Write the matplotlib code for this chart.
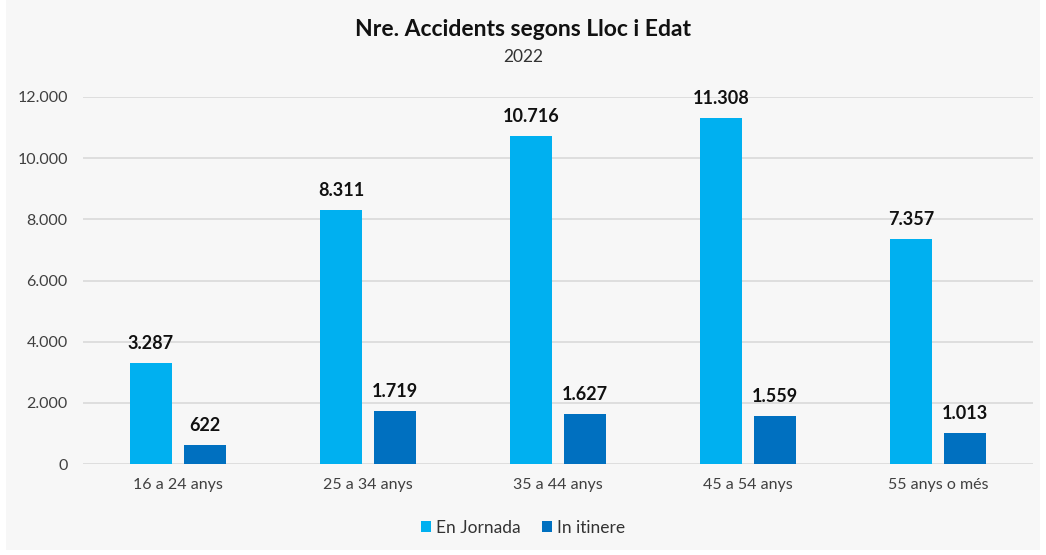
import numpy as np
import matplotlib.pyplot as plt
from matplotlib.patches import Rectangle
from matplotlib.ticker import FuncFormatter

plt.rcParams['font.family'] = ['Lato', 'DejaVu Sans']

# data
age_groups = ['16 a 24 anys', '25 a 34 anys', '35 a 44 anys', '45 a 54 anys', '55 anys o més']
en_jornada = [3287, 8311, 10716, 11308, 7357]
in_itinere = [622, 1719, 1627, 1559, 1013]
series_names = ['En Jornada', 'In itinere']
colors = ['#00b0f0', '#0070c0']

def dotted_thousands(v, pos=None):
    return f'{int(round(v)):,}'.replace(',', '.')

fig = plt.figure(figsize=(10.46, 5.55), dpi=100)
fig.patch.set_facecolor('white')
fig.patches.append(Rectangle((6 / 1046, 5 / 555), 1034 / 1046, 550 / 555,
                             transform=fig.transFigure, facecolor='#f7f7f7',
                             edgecolor='none', zorder=-10))

ax = fig.add_axes([83 / 1046, 91 / 555, 950 / 1046, 367 / 555])
ax.set_facecolor('none')

x = np.arange(len(age_groups))
w = 0.22
gap = 0.065
off = (w + gap) / 2
b1 = ax.bar(x - off, en_jornada, w, color=colors[0], label=series_names[0], zorder=3)
b2 = ax.bar(x + off, in_itinere, w, color=colors[1], label=series_names[1], zorder=3)

for bars in (b1, b2):
    for rect in bars:
        ax.annotate(dotted_thousands(rect.get_height()),
                    (rect.get_x() + rect.get_width() / 2, rect.get_height()),
                    xytext=(0, 8), textcoords='offset points',
                    ha='center', va='bottom', fontsize=13, fontweight='bold',
                    color='#111111')

ax.set_xlim(-0.5, len(age_groups) - 0.5)
ax.set_ylim(0, 12000)
ax.set_yticks(np.arange(0, 12001, 2000))
ax.yaxis.set_major_formatter(FuncFormatter(dotted_thousands))
ax.set_xticks(x)
ax.set_xticklabels(age_groups)
ax.tick_params(axis='both', length=0, labelsize=11.5, colors='#404040')
ax.tick_params(axis='x', pad=10)
ax.tick_params(axis='y', pad=11)
ax.grid(axis='y', color='#d9d9d9', linewidth=1.2, zorder=0)
for s in ax.spines.values():
    s.set_visible(False)

fig.text(0.5, 1 - 30 / 555, 'Nre. Accidents segons Lloc i Edat', ha='center',
         va='center', fontsize=16.5, fontweight='bold', color='#111111')
fig.text(0.5, 1 - 57 / 555, '2022', ha='center', va='center', fontsize=12.5,
         color='#333333')

fig.legend(loc='center', bbox_to_anchor=(0.5, 1 - 528 / 555), ncol=2, frameon=False,
           fontsize=12.5, handlelength=0.6, handleheight=0.6, handletextpad=0.3,
           columnspacing=1.2, labelcolor='#333333')

fig.savefig('out.png', dpi=100, facecolor=fig.get_facecolor())
